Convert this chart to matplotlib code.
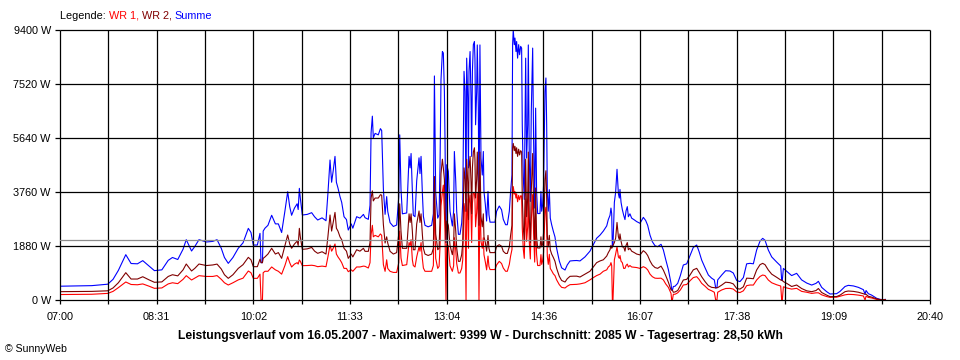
import numpy as np
import matplotlib
matplotlib.use("Agg")
import matplotlib.pyplot as plt

plt.rcParams["font.family"] = ["Liberation Sans", "DejaVu Sans"]

# minutes after 07:00, power of inverter 1 and inverter 2 in W
MINUTES = [
    0, 15, 30, 45, 50, 55, 62, 67, 73, 78, 84, 89, 96, 102, 106, 111, 116, 119, 124, 127,
    131, 138, 144, 148, 152,
    155, 158.6, 163, 168, 172.5, 177.5, 180, 182.2, 186, 188.5, 189.5, 190.8, 191.5, 193.2,
    196, 199.5, 203, 205.8, 208.9, 212, 214.6, 216.5, 218.3, 221, 223.5, 224.5, 225.6,
    226.5, 228.4, 233, 237.2, 240, 242.9, 247, 250.7, 252.5, 254.5, 256, 257.5, 259.2,
    260.5, 262, 263.9, 265.5, 267.7, 270, 271.7, 274.5, 276, 279.6, 282.7, 286,
    287.5, 290.6, 292.2, 293.2, 294.4, 295.3, 297, 300, 302, 303.2, 304.8, 306.4, 307.9,
    308.9, 311.1, 314.2, 317.3, 319.3, 320.2, 321.4, 322.7, 326.8, 329, 330, 330.9, 332.1,
    333, 334.6, 336.2, 338.4, 339.3, 340.3, 341.5, 342.5, 344, 347, 350.3, 351.9, 352.9,
    354.1, 356, 357.3, 358.2, 359.1, 360.4, 361.3, 362.3, 362.9, 363.8, 364.5, 366, 367.6,
    369.8, 371, 371.7, 373, 373.9, 375.5, 377, 378.6, 379.6, 380.8, 381.8, 382.7, 383.3,
    384.3, 385, 385.5, 386.5, 387.4, 388, 388.7, 389.6, 390.6,
    391.1, 391.7, 392.7, 393.3, 394.3, 394.9, 395.8, 396.8, 398, 399, 399.6, 400.9, 402.1,
    403.4, 404.3, 405.3, 410, 411.5, 414, 416.2, 417.8, 420, 421.6, 423.5, 424.7, 426,
    426.6, 427.2, 428.2, 428.8, 429.8, 430.4, 431.3, 432.3, 433.2, 434.2, 435.1, 435.7,
    436.7, 437.6, 438.2, 438.9, 439.8, 440.8, 441.4, 442.3, 443.3, 444.2, 445.5, 446.4,
    447.4, 448.3, 449.2, 450.2, 452.4, 453.3, 454, 454.9, 455.8, 457.1, 458, 458.7, 459.3,
    460.2, 461.2, 462.1, 463.4, 465, 466.5, 468.1, 470.6, 472.8, 476, 478.1, 480.7, 484,
    487,
    490.1, 494.8, 499.5, 502.7, 505.8, 509, 512.1, 515.3, 516.8, 518.4, 519.3, 520, 520.6,
    521.2, 522.5, 523.7, 525, 525.6, 526.3, 527.2, 527.8, 528.8, 530, 531.3, 532.5, 533.5,
    534.7, 535.7, 537.2, 538.8, 541.3, 543.5, 546.7, 549.8, 552, 553.9, 556.1, 558.3,
    560.8, 563.3, 566.5, 568.7, 570.9, 573.4, 575.9, 576.5, 577.2, 578.1, 579.7, 582.2,
    584.7, 587.5, 590.7, 593.8, 596.9, 600.1, 602.3, 604.8, 608, 611.1, 614.2, 616.7, 618,
    619.2, 619.9, 623.7, 627.4,
    631.5, 634.6, 637.8, 640.9, 644.1, 647.2, 650.4, 653.5, 656.6, 659.8, 662.3, 664.5,
    667.6, 670.8, 675.5, 679.3, 680.2, 680.8, 681.8, 684.9, 689.6, 694.3, 699, 703.8,
    708.5, 712.6, 714.8, 717.9, 722.6, 725.8, 732, 735.2, 739.9, 743, 747.8, 752.5, 757.2,
    758.8, 759.7, 761.9, 765, 769.7, 772.9, 776, 778,
]
WR1 = [
    190, 195, 200, 230, 300, 430, 627, 540, 530, 560, 480, 406, 420, 560, 600, 570, 720, 847,
    696, 760, 847, 820, 820, 850, 720,
    600, 522, 600, 700, 760, 1009, 950, 754, 754, 900, 0, 0, 950, 1000,
    1000, 1150, 1050, 1000, 900, 1200, 1508, 1300, 1150, 1250, 1300, 1250, 1392,
    1350, 1195, 1200, 1210, 1195, 1160, 1180, 1160, 1500, 1915, 1700, 1800, 1950,
    1600, 1500, 1400, 1300, 1100, 1100, 986, 1050, 1000, 1150, 1150, 1180,
    1172, 1114, 1300, 2274, 2600, 2200, 2250, 2200, 2300, 2250, 1230, 998, 1400,
    1100, 998, 960, 960, 1300, 2400, 1462, 1200, 1230, 2000, 1900, 2100, 1400,
    1200, 1150, 1500, 1850, 1700, 2000, 1450, 1114, 1000, 998, 1000, 1200, 3500,
    1450, 1100, 1170, 1860, 3270, 3750, 4000, 3060, 2320, 0, 1960, 1880, 1190,
    998, 1190, 2170, 1730, 1270, 940, 940, 1100, 1400, 3360, 3060, 0, 3520,
    2930, 1800, 3360, 3650, 2930, 2000, 3360, 3740, 3700,
    3500, 2550, 3050, 3730, 2800, 0, 3730, 2040, 1800, 2170, 1580, 1320, 1050,
    1530, 1170, 1060, 1060, 1220, 1346, 1270, 1114, 1000, 1000, 1240, 1530, 1760,
    3590, 3949, 3690, 3770, 3550, 3700, 3420, 3640, 3490, 3630, 3620, 2500,
    1750, 1450, 2400, 3520, 2040, 2550, 3730, 2040, 1430, 2770, 3670, 2320,
    1320, 2780, 1580, 1200, 1200, 1580, 1240, 1370, 1660, 3060, 3230, 2550, 1530,
    1240, 1590, 1100, 1020, 910, 850, 700, 534, 440, 418, 480, 534, 540,
    545,
    560, 600, 700, 780, 850, 900, 1000, 1050, 1150, 1200, 1300, 1200, 0,
    0, 1400, 1600, 1850, 1700, 1500, 1450, 1550, 1350, 1300, 1100, 1100, 1200,
    1250, 1150, 1200, 1150, 1140, 1130, 1100, 1160, 1120, 1050, 900, 812,
    760, 754, 760, 700, 560, 440, 230, 0, 0, 200, 200, 250,
    350, 522, 540, 670, 780, 812, 720, 580, 480, 370, 320, 270, 0,
    0, 270, 350, 400,
    406, 380, 280, 260, 320, 500, 522, 520, 696, 820, 870, 850,
    696, 600, 530, 487, 0, 0, 460, 420, 380, 406, 300, 270,
    230, 250, 250, 180, 120, 93, 100, 130, 180, 197, 190, 170, 140,
    0, 130, 90, 70, 20, 8, 5, 10,
]
WR2 = [
    290, 295, 300, 320, 420, 600, 951, 730, 730, 810, 700, 616, 630, 820, 880, 840, 1050, 1253,
    1010, 1100, 1253, 1200, 1220, 1250, 1080,
    880, 754, 880, 1100, 1230, 1485, 1400, 1160, 1160, 1420, 1300, 1300, 1450, 1500,
    1600, 1800, 1600, 1650, 1450, 1900, 2263, 1950, 1800, 1950, 2050, 1900, 2495,
    2200, 1764, 1780, 1830, 1700, 1625, 1680, 1600, 2200, 2959, 2400, 2700, 3050,
    2500, 2400, 2200, 2100, 1800, 1700, 1450, 1600, 1500, 1750, 1700, 1800,
    1694, 1694, 2000, 3550, 3800, 3450, 3550, 3550, 3666, 3650, 2622, 1984, 2200,
    1984, 1694, 1600, 1650, 2300, 3350, 2390, 1800, 1800, 3000, 2700, 3000, 2400,
    1750, 1750, 2650, 3100, 2700, 3000, 2300, 1800, 1600, 1550, 1600, 1800, 4300,
    2300, 1750, 1800, 2850, 4400, 4900, 4600, 4200, 3200, 2000, 2750, 2600, 1900,
    1578, 1900, 3000, 2400, 1810, 1346, 1346, 1578, 2000, 4600, 4200, 3086, 4900,
    4100, 2800, 4600, 5000, 4100, 3000, 4600, 5150, 5300,
    4900, 3550, 4200, 5150, 3900, 2600, 5150, 2900, 2550, 3000, 2200, 2000, 1700,
    2250, 1800, 1650, 1650, 1868, 1926, 1870, 1694, 1620, 1620, 1850, 2250, 2600,
    5300, 5450, 5200, 5350, 5100, 5300, 5000, 5250, 5050, 5200, 5150, 3600,
    2500, 2050, 3350, 4900, 2900, 3550, 5150, 2900, 2000, 3800, 5100, 3200,
    1880, 3900, 2200, 1810, 1810, 2200, 1850, 1950, 2350, 4200, 4500, 3550, 2250,
    1850, 2250, 1750, 1600, 1480, 1350, 1100, 824, 680, 626, 740, 824, 830,
    830,
    800, 900, 1000, 1150, 1300, 1360, 1400, 1530, 1650, 1750, 1900, 1800, 1850,
    1900, 2000, 2150, 2700, 2450, 2200, 2100, 2300, 2050, 1850, 1850, 1700, 1900,
    2000, 1750, 1800, 1700, 1650, 1600, 1570, 1717, 1650, 1550, 1360, 1218,
    1130, 1102, 1180, 1040, 850, 620, 350, 348, 340, 270, 280, 330,
    500, 696, 720, 870, 1050, 1102, 970, 810, 640, 500, 440, 430, 420,
    430, 430, 520, 620,
    603, 560, 400, 380, 460, 760, 754, 740, 1044, 1230, 1276, 1230,
    1044, 900, 790, 696, 690, 680, 640, 580, 470, 522, 400, 320,
    290, 330, 400, 260, 170, 116, 120, 170, 290, 313, 300, 270, 220,
    200, 200, 130, 100, 40, 15, 8, 12,
]
AVERAGE = 2085
Y_TICKS = [0, 1880, 3760, 5640, 7520, 9400]
X_LABELS = ["07:00", "08:31", "10:02", "11:33", "13:04", "14:36", "16:07", "17:38", "19:09", "20:40"]
SPAN = 820  # minutes from 07:00 to 20:40

t = np.array(MINUTES, float)
wr1 = np.array(WR1, float)
wr2 = np.array(WR2, float)
summe = wr1 + wr2

fig = plt.figure(figsize=(9.6, 3.6), dpi=100)
ax = fig.add_axes([60 / 960, 60 / 360, 870 / 960, 270 / 360])

ax.plot(t, summe, color="#0000ff", lw=0.8, zorder=2)
ax.plot(t, wr1, color="#ff0000", lw=0.8, zorder=2.1)
ax.plot(t, wr2, color="#800000", lw=0.8, zorder=2.2)

xgrid = np.linspace(0, SPAN, 19)
ax.hlines(Y_TICKS, 0, SPAN, color="black", lw=0.9, zorder=4, clip_on=False)
ax.vlines(xgrid, 0, Y_TICKS[-1], color="black", lw=0.9, zorder=4, clip_on=False)
ax.axhline(AVERAGE, color="#8c8c8c", lw=0.9, zorder=5)

ax.set_xlim(0, SPAN)
ax.set_ylim(0, Y_TICKS[-1])
for s in ax.spines.values():
    s.set_visible(False)

labels = []
for i in range(len(xgrid)):
    labels.append(X_LABELS[i // 2] if i % 2 == 0 else "")
ax.set_xticks(xgrid)
ax.set_xticklabels(labels, fontsize=7.8)
ax.set_yticks(Y_TICKS)
ax.set_yticklabels([f"{v} W" for v in Y_TICKS], fontsize=7.8)
ax.tick_params(axis="x", length=3, width=0.9, pad=6)
ax.tick_params(axis="y", length=3.6, width=0.9, pad=3)

# legend line above the plot
leg = fig.text(60 / 960, 1 - 16 / 360, "Legende: ", fontsize=7.8, va="center")
p1 = ax.annotate("WR 1, ", xy=(1, 0), xycoords=leg, va="bottom", fontsize=7.8, color="#ff0000")
p2 = ax.annotate("WR 2, ", xy=(1, 0), xycoords=p1, va="bottom", fontsize=7.8, color="#800000")
ax.annotate("Summe", xy=(1, 0), xycoords=p2, va="bottom", fontsize=7.8, color="#0000ff")

fig.text(0.5, 1 - 336 / 360,
         "Leistungsverlauf vom 16.05.2007 - Maximalwert: 9399 W - Durchschnitt: 2085 W - "
         "Tagesertrag: 28,50 kWh",
         ha="center", va="center", fontsize=8.75, fontweight="bold")
fig.text(5 / 960, 1 - 349 / 360, "© SunnyWeb", fontsize=7.6, va="center")

fig.savefig("out.png", dpi=100, facecolor="white")
